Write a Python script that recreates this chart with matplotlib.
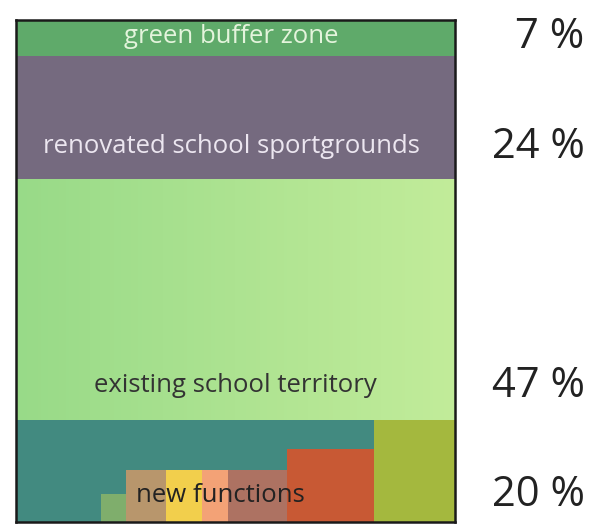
import numpy as np
import matplotlib
matplotlib.use('Agg')
import matplotlib.pyplot as plt

plt.rcParams['font.family'] = ['Open Sans', 'DejaVu Sans']

# land use shares, bottom to top
zones = ["new functions", "existing school territory",
         "renovated school sportgrounds", "green buffer zone"]
shares = [20, 47, 24, 7]
pct_labels = ["20 %", "47 %", "24 %", "7 %"]
zone_colors = ["#428a80", "#a8e08c", "#756a7f", "#5faa6a"]
text_colors = ["#222222", "#333333", "#ece6f0", "#e4f4dc"]
label_frac = [0.26, 0.14, 0.26, 0.53]  # where the label sits inside each band
label_x = [0.465, 0.5, 0.49, 0.49]

# small blocks inside the "new functions" band (x extents in box fraction, height in %)
nf_left = [0.193, 0.25, 0.342, 0.424, 0.483, 0.618, 0.815]
nf_width = [0.057, 0.092, 0.082, 0.059, 0.135, 0.197, 0.185]
nf_height = [5.5, 10.2, 10.2, 10.2, 10.2, 14.3, 20]
nf_colors = ["#7fae6c", "#b8966c", "#f2cf4c", "#f3a276", "#ad7262", "#c85934", "#a4b83e"]

fig = plt.figure(figsize=(6.05, 5.24), dpi=100)
ax = fig.add_axes([16 / 605, 2 / 524, 439 / 605, 502 / 524])

bottoms = np.concatenate([[0], np.cumsum(shares)[:-1]])
bars = ax.bar(0.5, shares, bottom=bottoms, width=1.0, color=zone_colors, linewidth=0)

# soft left-to-right gradient on the existing territory band
grad = np.linspace(0, 1, 256).reshape(1, -1)
cmap = matplotlib.colors.LinearSegmentedColormap.from_list("g", ["#98da88", "#c2ec9a"])
im = ax.imshow(grad, cmap=cmap, aspect='auto',
               extent=[0, 1, bottoms[1], bottoms[1] + shares[1]], zorder=1)
im.set_clip_path(bars[1])

ax.bar(nf_left, nf_height, width=nf_width, bottom=0, align='edge',
       color=nf_colors, linewidth=0, zorder=2)

for i in range(len(zones)):
    y = bottoms[i] + shares[i] * label_frac[i]
    ax.text(label_x[i], y, zones[i], ha='center', va='center',
            fontsize=18.5, color=text_colors[i], zorder=3)
    ax.text(1.295, y, pct_labels[i], ha='right', va='center',
            fontsize=30, color='#222222', transform=ax.get_yaxis_transform())

ax.set_xlim(0, 1)
ax.set_ylim(0, sum(shares))
ax.set_xticks([])
ax.set_yticks([])
for spine in ax.spines.values():
    spine.set_linewidth(1.8)
    spine.set_color('#1a1a1a')
    spine.set_zorder(5)

fig.savefig("out.png", dpi=100)
